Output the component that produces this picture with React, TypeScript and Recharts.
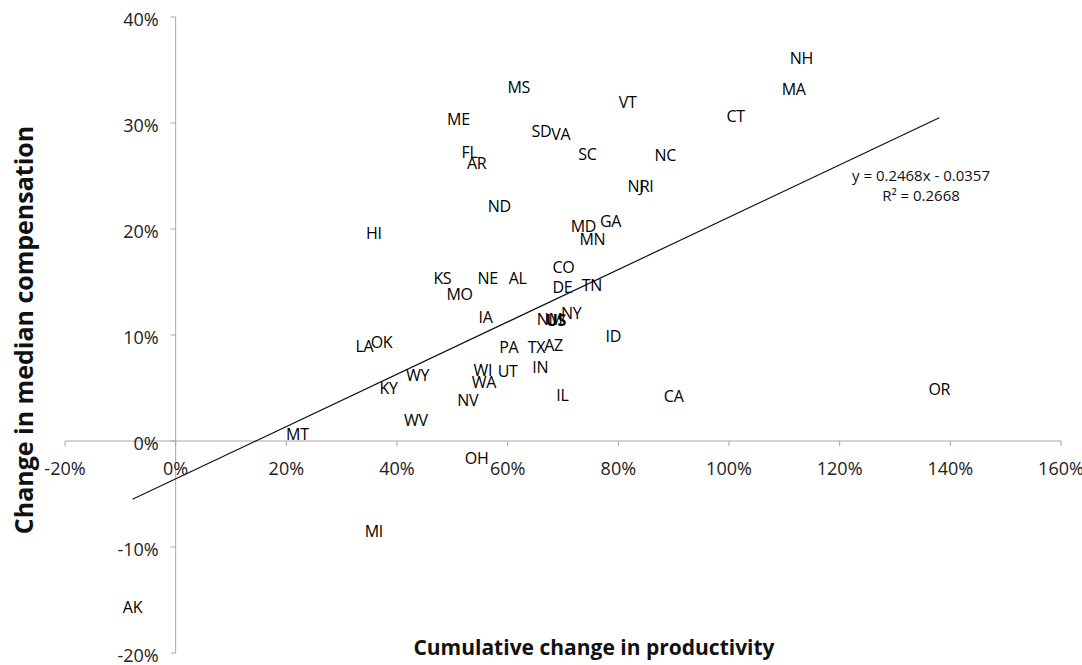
import { ScatterChart, Scatter, XAxis, YAxis, ReferenceLine } from 'recharts'

// state labels, cumulative productivity change (x), median compensation change (y)
const STATES = [
  'NH', 'MA', 'CT', 'VT', 'MS', 'ME', 'SD', 'VA', 'FL', 'AR', 'SC', 'NC', 'NJ', 'RI', 'ND', 'MD', 'GA',
  'MN', 'HI', 'KS', 'NE', 'AL', 'MO', 'CO', 'DE', 'TN', 'IA', 'NM', 'US', 'NY', 'ID', 'PA', 'TX', 'AZ',
  'WI', 'WA', 'UT', 'IN', 'NV', 'IL', 'CA', 'OR', 'LA', 'OK', 'KY', 'WY', 'WV', 'MT', 'OH', 'MI', 'AK',
]
const PRODUCTIVITY = [
  1.131, 1.117, 1.012, 0.817, 0.62, 0.511, 0.661, 0.696, 0.531, 0.544, 0.744, 0.885, 0.831, 0.851, 0.585, 0.737, 0.786,
  0.753, 0.358, 0.482, 0.564, 0.618, 0.513, 0.701, 0.699, 0.752, 0.56, 0.676, 0.687, 0.715, 0.791, 0.602, 0.652, 0.683,
  0.555, 0.557, 0.6, 0.659, 0.528, 0.699, 0.9, 1.38, 0.341, 0.372, 0.385, 0.437, 0.434, 0.22, 0.544, 0.358, -0.078,
]
const COMPENSATION = [
  0.361, 0.332, 0.307, 0.32, 0.334, 0.304, 0.292, 0.29, 0.273, 0.262, 0.271, 0.27, 0.241, 0.241, 0.222, 0.203, 0.208,
  0.191, 0.196, 0.154, 0.154, 0.154, 0.139, 0.164, 0.145, 0.147, 0.117, 0.115, 0.114, 0.121, 0.099, 0.089, 0.089, 0.091,
  0.067, 0.056, 0.066, 0.07, 0.039, 0.043, 0.042, 0.049, 0.09, 0.093, 0.05, 0.062, 0.02, 0.007, -0.016, -0.085, -0.157,
]
const X_TICKS = [-0.2, 0, 0.2, 0.4, 0.6, 0.8, 1.0, 1.2, 1.4, 1.6]
const Y_TICKS = [-0.2, -0.1, 0, 0.1, 0.2, 0.3, 0.4]
const TREND = { slope: 0.2468, intercept: -0.0357, r2: 0.2668 }

const W = 1082
const H = 665
// axes get 1px each (recharts skips a 0-sized axis), the rest is margin
const M = { top: 17, right: 21, bottom: 11, left: 64 }
const FONT = '"Open Sans", "Noto Sans", sans-serif'

const X_DOM: [number, number] = [X_TICKS[0], X_TICKS[X_TICKS.length - 1]]
const Y_DOM: [number, number] = [Y_TICKS[0], Y_TICKS[Y_TICKS.length - 1]]
const PLOT_L = M.left + 1
const PLOT_B = H - M.bottom - 1
// axes cross at zero, not at the plot edge
const ZERO_Y = M.top + (PLOT_B - M.top) * (Y_DOM[1] / (Y_DOM[1] - Y_DOM[0]))
const ZERO_X = PLOT_L + (W - M.right - PLOT_L) * (-X_DOM[0] / (X_DOM[1] - X_DOM[0]))

const pct = (v: number) => `${Math.round(v * 100)}%`

const data = STATES.map((state, i) => ({ state, x: PRODUCTIVITY[i], y: COMPENSATION[i] }))
const xMin = Math.min(...PRODUCTIVITY)
const xMax = Math.max(...PRODUCTIVITY)
const trend = (x: number) => TREND.slope * x + TREND.intercept

function XTick({ x, payload }: any) {
  return (
    <g>
      <line x1={x} x2={x} y1={ZERO_Y} y2={ZERO_Y + 5} stroke="#a6a6a6" />
      <text x={x} y={ZERO_Y + 27} textAnchor="middle" dominantBaseline="central" fontSize={18} fill="#222" fontFamily={FONT}>
        {pct(payload.value)}
      </text>
    </g>
  )
}

function YTick({ y, payload }: any) {
  return (
    <g>
      <line x1={ZERO_X - 5} x2={ZERO_X} y1={y} y2={y} stroke="#a6a6a6" />
      <text x={ZERO_X - 17} y={y + 2} textAnchor="end" dominantBaseline="central" fontSize={18} fill="#222" fontFamily={FONT}>
        {pct(payload.value)}
      </text>
    </g>
  )
}

function StateLabel({ cx, cy, payload }: any) {
  return (
    <text x={cx} y={cy} textAnchor="middle" dominantBaseline="central" fontSize={16} fill="#000"
      fontFamily={FONT} fontWeight={payload.state === 'US' ? 700 : 400} letterSpacing={-0.3}>
      {payload.state}
    </text>
  )
}

export default function App() {
  return (
    <div style={{ position: 'absolute', left: 0, top: 0, width: W, height: H, background: '#fff', fontFamily: FONT }}>
      <ScatterChart width={W} height={H} margin={M}>
        <XAxis dataKey="x" type="number" domain={X_DOM} ticks={X_TICKS} interval={0} height={1}
          axisLine={false} tickLine={false} tick={<XTick />} />
        <YAxis dataKey="y" type="number" domain={Y_DOM} ticks={Y_TICKS} interval={0} width={1}
          axisLine={false} tickLine={false} tick={<YTick />} />
        <ReferenceLine y={0} stroke="#a6a6a6" strokeWidth={1} />
        <ReferenceLine x={0} stroke="#a6a6a6" strokeWidth={1} />
        <ReferenceLine segment={[{ x: xMin, y: trend(xMin) }, { x: xMax, y: trend(xMax) }]}
          stroke="#111" strokeWidth={1.2} ifOverflow="visible" />
        <Scatter data={data} shape={<StateLabel />} isAnimationActive={false} />
      </ScatterChart>

      <div style={{ position: 'absolute', left: 821, top: 165, width: 200, textAlign: 'center', fontSize: 15, lineHeight: '20px', color: '#111' }}>
        <div>y = {TREND.slope}x - {Math.abs(TREND.intercept)}</div>
        <div>R² = {TREND.r2}</div>
      </div>
      <div style={{ position: 'absolute', left: 0, top: 633, width: 1188, textAlign: 'center', fontSize: 21, fontWeight: 700, color: '#111' }}>
        Cumulative change in productivity
      </div>
      <div style={{ position: 'absolute', left: 23, top: 330, transform: 'translate(-50%, -50%) rotate(-90deg)', whiteSpace: 'nowrap', fontSize: 25, fontWeight: 700, color: '#111' }}>
        Change in median compensation
      </div>
    </div>
  )
}
